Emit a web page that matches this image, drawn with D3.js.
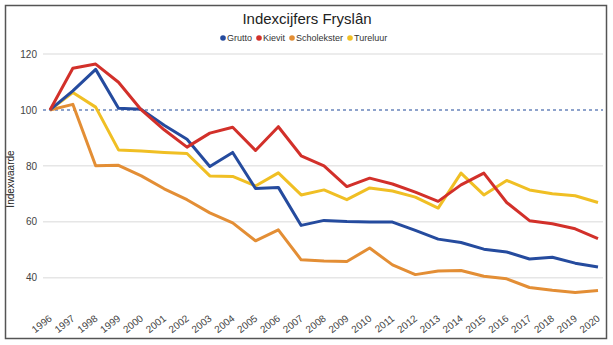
<!DOCTYPE html>
<html><head><meta charset="utf-8">
<script src="https://cdn.jsdelivr.net/npm/d3@7"></script>
<style>body{margin:0;background:#fff;} text{font-family:"Liberation Sans",Arial,sans-serif;}</style>
</head><body>
<svg id="c" width="613" height="345"></svg>
<script>
const years = d3.range(1996, 2021).map(String);
const grutto = [100,106.8,114.5,100.6,100.2,94.5,89.5,79.8,84.8,71.9,72.3,58.7,60.5,60.1,59.9,59.9,56.9,53.8,52.6,50.2,49.2,46.7,47.3,45.2,43.8];
const kievit = [100,114.9,116.4,109.9,100,92.9,86.7,91.7,93.8,85.5,94,83.6,80,72.6,75.6,73.5,70.6,67.3,73.2,77.4,66.9,60.4,59.3,57.5,54];
const scholekster = [100,102,80,80.2,76.4,71.8,67.9,63.2,59.6,53.2,57.1,46.4,46,45.8,50.6,44.6,41.1,42.4,42.6,40.5,39.6,36.5,35.5,34.7,35.4];
const tureluur = [100,106.2,101,85.7,85.3,84.8,84.4,76.4,76.2,72.8,77.5,69.6,71.4,67.9,72.1,71,68.8,64.9,77.4,69.6,74.8,71.4,70,69.3,66.9];
const seriesNames = ["Grutto","Kievit","Scholekster","Tureluur"];
const seriesColors = ["#254b9e","#d2302a","#e38e35","#f0bf24"];
const yTicks = [40,60,80,100,120];
const baseline = 100;

const svg = d3.select("#c");
svg.append("rect").attr("x",5.5).attr("y",5.5).attr("width",601).attr("height",333)
  .attr("fill","#fff").attr("stroke","#555").attr("stroke-width",1.5);

const x = d3.scalePoint().domain(years).range([50,598]);
const y = d3.scaleLinear().domain([40,120]).range([277.7,54]);

// gridlines
svg.append("g").selectAll("line").data(yTicks.filter(t=>t!==100)).join("line")
  .attr("x1",43).attr("x2",603).attr("y1",d=>y(d)).attr("y2",d=>y(d))
  .attr("stroke","#e6e6e6").attr("stroke-width",1.5);

// y axis labels
const yAxis = d3.axisLeft(y).tickValues(yTicks).tickSize(0).tickPadding(0);
const gy = svg.append("g").attr("transform","translate(37,0)").call(yAxis);
gy.select(".domain").remove();
gy.selectAll("text").attr("font-size",10).attr("fill","#444").attr("font-family","Liberation Sans, Arial, sans-serif");

// baseline dashed
svg.append("line").attr("x1",43).attr("x2",603).attr("y1",y(baseline)).attr("y2",y(baseline))
  .attr("stroke","#8ea3cc").attr("stroke-width",2).attr("stroke-dasharray","3,3");

// x axis labels
const xAxis = d3.axisBottom(x).tickSize(0).tickPadding(0);
const gx = svg.append("g").attr("transform","translate(0,312)").call(xAxis);
gx.select(".domain").remove();
gx.selectAll("text").attr("font-size",10).attr("fill","#444")
  .attr("font-family","Liberation Sans, Arial, sans-serif")
  .attr("text-anchor","end").attr("dy","0.35em")
  .attr("transform","translate(0,5) rotate(-38)");

// lines
const data = [grutto,kievit,scholekster,tureluur];
const line = d3.line().x((d,i)=>x(years[i])).y(d=>y(d));
const drawOrder = [2,3,0,1];
drawOrder.forEach(k=>{
  svg.append("path").datum(data[k]).attr("d",line).attr("fill","none")
    .attr("stroke",seriesColors[k]).attr("stroke-width",3).attr("stroke-linejoin","round");
});

// title
svg.append("text").attr("x",307).attr("y",24).attr("text-anchor","middle")
  .attr("font-size",15).attr("fill","#222").text("Indexcijfers Fryslân");

// legend
const legendX = [223, 259, 292, 350];
const lg = svg.append("g");
seriesNames.forEach((n,i)=>{
  lg.append("circle").attr("cx",legendX[i]).attr("cy",38).attr("r",2.8).attr("fill",seriesColors[i]);
  lg.append("text").attr("x",legendX[i]+4).attr("y",41.2).attr("font-size",9).attr("fill","#333").text(n);
});

// y axis title
svg.append("text").attr("transform","translate(14,179) rotate(-90)").attr("text-anchor","middle")
  .attr("font-size",10).attr("fill","#222").text("Indexwaarde");
</script>
</body></html>
